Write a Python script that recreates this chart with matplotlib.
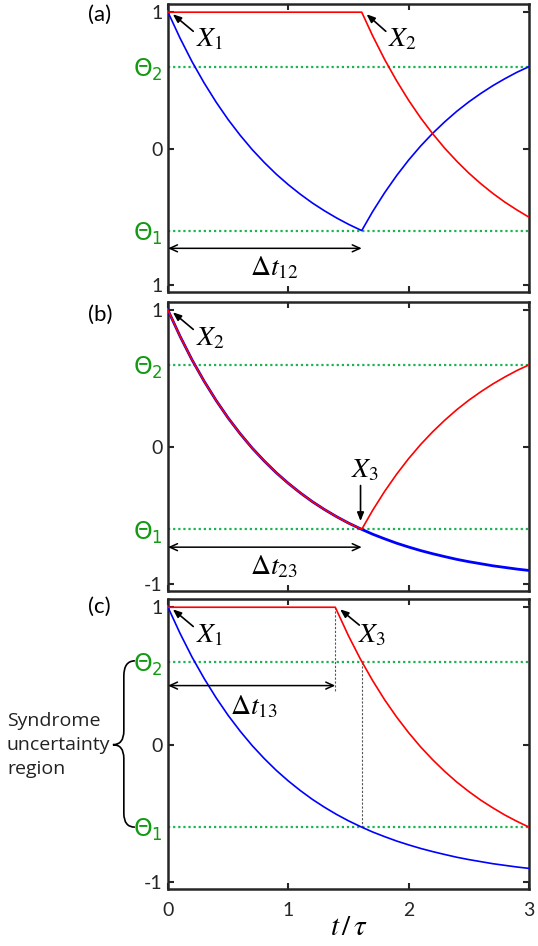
import matplotlib.pyplot as plt
from matplotlib.path import Path
from matplotlib.patches import PathPatch

plt.rcParams['font.family'] = ['Lato', 'DejaVu Sans']
plt.rcParams['mathtext.fontset'] = 'stix'

# sample times (t / tau)
t_fall = [0.0, 0.1, 0.2, 0.3, 0.4, 0.5, 0.6, 0.7, 0.8, 0.9, 1.0, 1.1, 1.2,
          1.3, 1.4, 1.5, 1.6, 1.61]
t_rise = [1.61, 1.7, 1.8, 1.9, 2.0, 2.1, 2.2, 2.3, 2.4, 2.5, 2.6, 2.7, 2.8,
          2.9, 3.0]
t_late = [1.39, 1.5, 1.6, 1.7, 1.8, 1.9, 2.0, 2.1, 2.2, 2.3, 2.4, 2.5, 2.6,
          2.7, 2.8, 2.9, 3.0]

# signal values
fall = [1.0, 0.810, 0.637, 0.482, 0.341, 0.213, 0.098, -0.007, -0.101, -0.187,
        -0.264, -0.334, -0.398, -0.455, -0.507, -0.554, -0.596, -0.600]
fall_tail = [-0.600, -0.635, -0.669, -0.701, -0.729, -0.755, -0.778, -0.799,
             -0.819, -0.836, -0.851, -0.866, -0.878, -0.890, -0.900]
rise = [-0.600, -0.462, -0.323, -0.197, -0.083, 0.020, 0.113, 0.197, 0.274,
        0.343, 0.405, 0.462, 0.513, 0.560, 0.601]
red_a_tail = [1.0, 0.828, 0.654, 0.497, 0.354, 0.225, 0.109, 0.003, -0.092,
              -0.179, -0.257, -0.328, -0.392, -0.449, -0.502]
red_c_tail = [1.0, 0.792, 0.621, 0.467, 0.327, 0.201, 0.087, -0.017, -0.110,
              -0.195, -0.272, -0.341, -0.404, -0.460, -0.512, -0.558, -0.600]

theta1, theta2 = -0.6, 0.6
t_12 = 1.61
t_13 = 1.39

t_full = t_fall + t_rise[1:]

BLUE = '#0000ff'
RED = '#ff0000'
GREEN_LINE = '#1db354'
GREEN_TXT = '#139a13'
FRAME = '#262626'
MATH_SIZE = 20

fig = plt.figure(figsize=(5.38, 9.46), dpi=100)
left, width = 168 / 538, 361 / 538
ax_a = fig.add_axes([left, 1 - 292 / 946, width, 288 / 946])
ax_b = fig.add_axes([left, 1 - 591 / 946, width, 289 / 946])
ax_c = fig.add_axes([left, 1 - 889 / 946, width, 290 / 946])


def style(ax, bottom_label, show_x):
    ax.set_xlim(0, 3)
    ax.set_ylim(-1.05, 1.06)
    for s in ax.spines.values():
        s.set_color(FRAME)
        s.set_linewidth(1.8)
    ax.tick_params(direction='in', top=True, right=True, length=4, width=1.5,
                   color=FRAME, labelsize=14, labelcolor='#262626')
    ax.tick_params(axis='y', pad=4)
    ax.tick_params(axis='x', pad=9)
    ax.set_xticks([0, 1, 2, 3])
    if not show_x:
        ax.set_xticklabels([])
    ax.set_yticks([-1, theta1, 0, theta2, 1])
    labels = ax.set_yticklabels([bottom_label, r'$\Theta_1$', '0',
                                 r'$\Theta_2$', '1'])
    for i in (1, 3):
        labels[i].set_color(GREEN_TXT)
        labels[i].set_fontsize(17)
        labels[i].set_math_fontfamily('dejavusans')
        tk = ax.yaxis.get_major_ticks()[i]
        tk.tick1line.set_visible(False)
        tk.tick2line.set_visible(False)
    for th in (theta1, theta2):
        ax.axhline(th, color=GREEN_LINE, lw=1.6, ls=(0, (1, 1.3)), zorder=1)


def pointer(ax, head, tail, label, text_xy, ha='left'):
    ax.annotate('', xy=head, xytext=tail,
                arrowprops=dict(arrowstyle='-|>,head_length=0.5,head_width=0.2',
                                mutation_scale=10, color='black', lw=1.2,
                                shrinkA=0, shrinkB=0))
    ax.text(text_xy[0], text_xy[1], label, fontsize=MATH_SIZE, ha=ha,
            va='center')


def span(ax, t_end, y, label, label_xy):
    ax.annotate('', xy=(t_end, y), xytext=(0, y),
                arrowprops=dict(arrowstyle='<->,head_length=0.55,head_width=0.25',
                                mutation_scale=10, color='black', lw=1.1,
                                shrinkA=0, shrinkB=0))
    ax.text(label_xy[0], label_xy[1], label, fontsize=MATH_SIZE, ha='center',
            va='center')


# (a)
style(ax_a, '1', False)
ax_a.plot(t_full, fall + rise[1:], color=BLUE, lw=1.2, zorder=3)
ax_a.plot([0] + t_rise, [1.0] + red_a_tail, color=RED, lw=1.2, zorder=3)
pointer(ax_a, (0.04, 0.985), (0.21, 0.86), r'$X_1$', (0.23, 0.80))
pointer(ax_a, (1.65, 0.985), (1.81, 0.86), r'$X_2$', (1.83, 0.80))
span(ax_a, t_12, -0.73, r'$\Delta t_{12}$', (0.88, -0.87))

# (b)
style(ax_b, '-1', False)
ax_b.plot(t_full, fall + fall_tail[1:], color=BLUE, lw=2.0, zorder=3)
ax_b.plot(t_full, fall + rise[1:], color=RED, lw=1.2, zorder=4)
pointer(ax_b, (0.04, 0.985), (0.21, 0.86), r'$X_2$', (0.23, 0.80))
ax_b.annotate('', xy=(t_12 - 0.01, -0.54), xytext=(t_12 - 0.01, -0.28),
              arrowprops=dict(arrowstyle='-|>,head_length=0.5,head_width=0.2',
                              mutation_scale=10, color='black', lw=1.2,
                              shrinkA=0, shrinkB=0))
ax_b.text(1.64, -0.17, r'$X_3$', fontsize=MATH_SIZE, ha='center', va='center')
span(ax_b, t_12, -0.73, r'$\Delta t_{23}$', (0.88, -0.87))

# (c)
style(ax_c, '-1', True)
ax_c.plot(t_full, fall + fall_tail[1:], color=BLUE, lw=1.2, zorder=3)
ax_c.plot([0] + t_late, [1.0] + red_c_tail, color=RED, lw=1.2, zorder=3)
ax_c.plot([t_13, t_13], [1.0, 0.38], color='#555555', lw=0.8,
          ls=(0, (2, 1.5)), zorder=2)
ax_c.plot([t_12, t_12], [theta2, theta1], color='#555555', lw=0.8,
          ls=(0, (2, 1.5)), zorder=2)
pointer(ax_c, (0.04, 0.985), (0.21, 0.86), r'$X_1$', (0.23, 0.80))
pointer(ax_c, (1.43, 0.985), (1.59, 0.87), r'$X_3$', (1.58, 0.80))
span(ax_c, t_13, 0.43, r'$\Delta t_{13}$', (0.71, 0.28))
ax_c.set_xlabel(r'$t\,/\,\tau$', fontsize=21, labelpad=-3)

# brace marking the uncertainty region
xb_end, xb_mid, xb_tip = -0.275, -0.367, -0.458
verts = [(xb_end, 0.61), (xb_mid, 0.61), (xb_mid, 0.5),
         (xb_mid, 0.1), (xb_mid, 0.0), (xb_tip, 0.0),
         (xb_mid, 0.0), (xb_mid, -0.1),
         (xb_mid, -0.5), (xb_mid, -0.6), (xb_end, -0.6)]
codes = [Path.MOVETO, Path.CURVE3, Path.CURVE3,
         Path.LINETO, Path.CURVE3, Path.CURVE3,
         Path.CURVE3, Path.CURVE3,
         Path.LINETO, Path.CURVE3, Path.CURVE3]
ax_c.add_patch(PathPatch(Path(verts, codes), fill=False, lw=1.2,
                         color='black', clip_on=False))
fig.text(7 / 538, 1 - 745 / 946, 'Syndrome\nuncertainty\nregion',
         fontsize=14, family=['Open Sans', 'DejaVu Sans'], color='#222222',
         ha='left', va='center', linespacing=1.4)

fig.text(88 / 538, 1 - 15 / 946, '(a)', fontsize=16, ha='left', va='center')
fig.text(88 / 538, 1 - 315 / 946, '(b)', fontsize=16, ha='left', va='center')
fig.text(88 / 538, 1 - 607 / 946, '(c)', fontsize=16, ha='left', va='center')

fig.savefig('out.png', dpi=100)
